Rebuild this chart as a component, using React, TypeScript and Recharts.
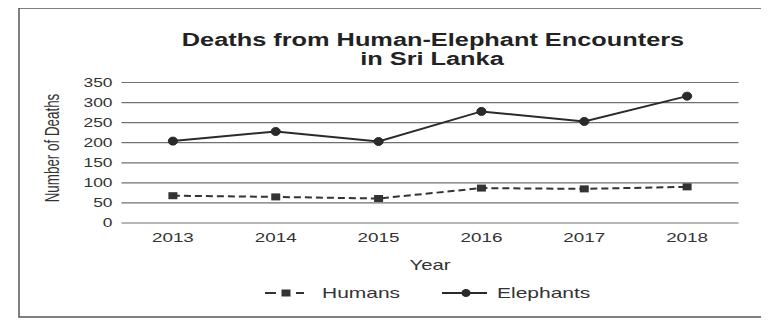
import React from 'react';
import { LineChart, Line, XAxis, YAxis, CartesianGrid } from 'recharts';

const years = ['2013', '2014', '2015', '2016', '2017', '2018'];
const elephants = [204, 228, 203, 278, 253, 316];
const humans = [68, 65, 61, 87, 85, 90];
const yTicks = [0, 50, 100, 150, 200, 250, 300, 350];
const titleLines = ['Deaths from Human-Elephant Encounters', 'in Sri Lanka'];
const xAxisTitle = 'Year';
const yAxisTitle = 'Number of Deaths';
const seriesNames = ['Humans', 'Elephants'];

const data = years.map((year, i) => ({ year, humans: humans[i], elephants: elephants[i] }));

const FONT = '"Liberation Sans", Arial, Helvetica, sans-serif';
const INK = '#2a2a2a';

function stretch(x: number, y: number, sx = 1.45) {
  return `translate(${x} ${y}) scale(${sx} 1) translate(${-x} ${-y})`;
}

const XTick = (props: any) => {
  const { x, y, payload } = props;
  const by = y + 11;
  return (
    <text x={x} y={by} textAnchor="middle" transform={stretch(x, by)} fontSize={13} fill="#333" fontFamily={FONT}>
      {payload.value}
    </text>
  );
};

const YTick = (props: any) => {
  const { x, y, payload } = props;
  const bx = x - 1;
  const by = y + 4.3;
  return (
    <text x={bx} y={by} textAnchor="end" transform={stretch(bx, by)} fontSize={12} fill="#333" fontFamily={FONT}>
      {payload.value}
    </text>
  );
};

const CircleDot = (props: any) => {
  const { cx, cy } = props;
  if (cx == null || cy == null) return null;
  return <ellipse cx={cx} cy={cy} rx={4.6} ry={4} fill={INK} stroke={INK} strokeWidth={1} />;
};

const SquareDot = (props: any) => {
  const { cx, cy } = props;
  if (cx == null || cy == null) return null;
  return <rect x={cx - 4.5} y={cy - 3.5} width={9} height={7} fill="#333" />;
};

export default function App() {
  return (
    <div style={{ position: 'relative', width: 769, height: 320, margin: '-8px 0 0 -8px', background: '#fff' }}>
      <LineChart
        width={769}
        height={320}
        data={data}
        margin={{ top: 82.5, right: 30.5, left: 21.5, bottom: 67 }}
      >
        <CartesianGrid vertical={false} stroke="#707070" strokeWidth={1.2} />
        <XAxis
          dataKey="year"
          height={30}
          axisLine={false}
          tickLine={false}
          tick={<XTick />}
          interval={0}
          padding={{ left: 51.4, right: 51.4 }}
        />
        <YAxis
          domain={[0, 350]}
          ticks={yTicks}
          width={100}
          axisLine={false}
          tickLine={false}
          tick={<YTick />}
          interval={0}
        />
        <Line
          type="linear"
          dataKey="humans"
          name={seriesNames[0]}
          stroke="#333"
          strokeWidth={2}
          strokeDasharray="7 4"
          dot={<SquareDot />}
          isAnimationActive={false}
        />
        <Line
          type="linear"
          dataKey="elephants"
          name={seriesNames[1]}
          stroke={INK}
          strokeWidth={2}
          dot={<CircleDot />}
          isAnimationActive={false}
        />
      </LineChart>
      <svg
        width={769}
        height={320}
        style={{ position: 'absolute', left: 0, top: 0, pointerEvents: 'none' }}
      >
        <rect x={19} y={8} width={744} height={309} fill="none" stroke="#555" strokeWidth={1.5} />
        <text x={433} y={46} textAnchor="middle" transform={stretch(433, 46, 1.37)} fontSize={18.5} fontWeight="bold" fill="#222" fontFamily={FONT}>
          {titleLines[0]}
        </text>
        <text x={432} y={65} textAnchor="middle" transform={stretch(432, 65, 1.37)} fontSize={18.5} fontWeight="bold" fill="#222" fontFamily={FONT}>
          {titleLines[1]}
        </text>
        <text x={430} y={270} textAnchor="middle" transform={stretch(430, 270)} fontSize={14} fill="#333" fontFamily={FONT}>
          {xAxisTitle}
        </text>
        <text
          x={0}
          y={0}
          textAnchor="middle"
          transform="translate(59 148) scale(1.45 1) rotate(-90)"
          fontSize={13.4}
          fill="#333"
          fontFamily={FONT}
        >
          {yAxisTitle}
        </text>
        <line x1={265} y1={293} x2={276} y2={293} stroke="#333" strokeWidth={2} />
        <rect x={281.5} y={289.5} width={9} height={7} fill="#333" />
        <line x1={296} y1={293} x2={304} y2={293} stroke="#333" strokeWidth={2} />
        <text x={322} y={298} transform={stretch(322, 298, 1.5)} fontSize={14} fill="#333" fontFamily={FONT}>
          {seriesNames[0]}
        </text>
        <line x1={442} y1={293} x2={487} y2={293} stroke={INK} strokeWidth={2} />
        <ellipse cx={466} cy={293} rx={4.6} ry={4} fill={INK} />
        <text x={497} y={298} transform={stretch(497, 298, 1.5)} fontSize={14} fill="#333" fontFamily={FONT}>
          {seriesNames[1]}
        </text>
      </svg>
    </div>
  );
}
